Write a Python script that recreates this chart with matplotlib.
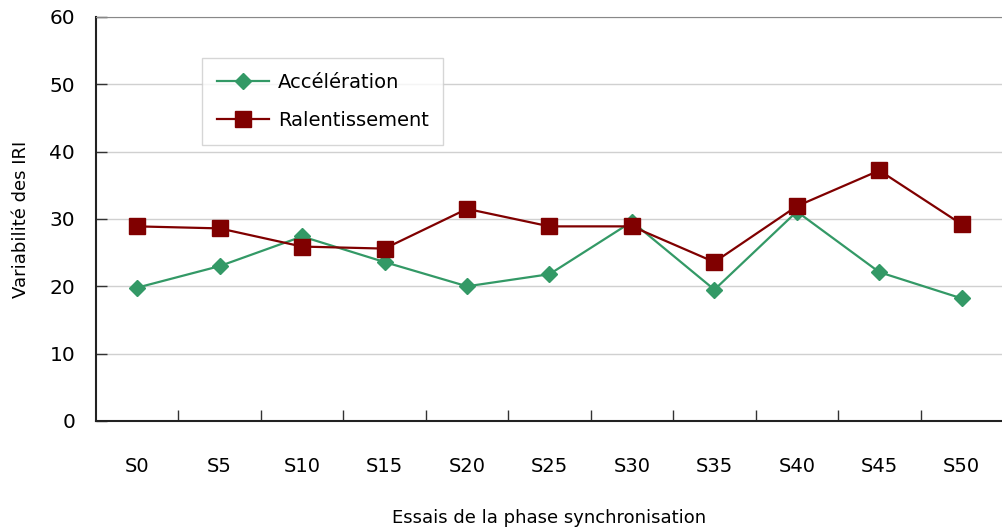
import numpy as np
import matplotlib.pyplot as plt

sessions = ["S0", "S5", "S10", "S15", "S20", "S25", "S30", "S35", "S40", "S45", "S50"]
acceleration = [19.8, 23.0, 27.4, 23.6, 20.0, 21.8, 29.6, 19.5, 31.1, 22.1, 18.2]
ralentissement = [28.9, 28.6, 25.9, 25.6, 31.5, 28.9, 28.9, 23.6, 31.9, 37.2, 29.2]

plt.rcParams['font.family'] = ['DejaVu Sans']

fig = plt.figure(figsize=(10.03, 5.30), dpi=100)
ax = fig.add_axes([0.0957, 0.2057, 0.9043, 0.7623])

x = np.arange(len(sessions))
ax.plot(x, acceleration, color="#339966", lw=1.6, marker="D", ms=8.5,
        label="Accélération", zorder=3)
ax.plot(x, ralentissement, color="#800000", lw=1.6, marker="s", ms=11,
        label="Ralentissement", zorder=3)

ax.set_xlim(-0.5, len(sessions) - 0.5)
ax.set_ylim(0, 60)
ax.set_yticks(range(0, 61, 10))
ax.yaxis.grid(True, color="#d0d0d0", lw=1)
ax.set_axisbelow(True)

ax.set_xticks(x)
ax.set_xticklabels(sessions)
ax.set_xticks(np.arange(0.5, len(sessions) - 0.5, 1), minor=True)
ax.tick_params(axis="x", which="major", length=0, pad=26, labelsize=14)
ax.tick_params(axis="x", which="minor", direction="in", length=8, width=1, color="#333333")
ax.tick_params(axis="y", direction="in", length=8, width=1, color="#333333",
               labelsize=14.5, pad=15)

for side in ["left", "bottom"]:
    ax.spines[side].set_color("#222222")
    ax.spines[side].set_linewidth(1.5)
ax.spines["top"].set_color("#888888")
ax.spines["right"].set_visible(False)

ax.set_xlabel("Essais de la phase synchronisation", fontsize=13, labelpad=24)
ax.set_ylabel("Variabilité des IRI", fontsize=13, labelpad=14)

leg = ax.legend(loc="upper left", bbox_to_anchor=(0.117, 0.898), fontsize=14,
                frameon=True, fancybox=False, handlelength=2.7, handletextpad=0.45,
                borderpad=0.75, labelspacing=1.0, borderaxespad=0)
leg.get_frame().set_edgecolor("#cccccc")
leg.get_frame().set_linewidth(1)

fig.savefig("out.png", dpi=100)
